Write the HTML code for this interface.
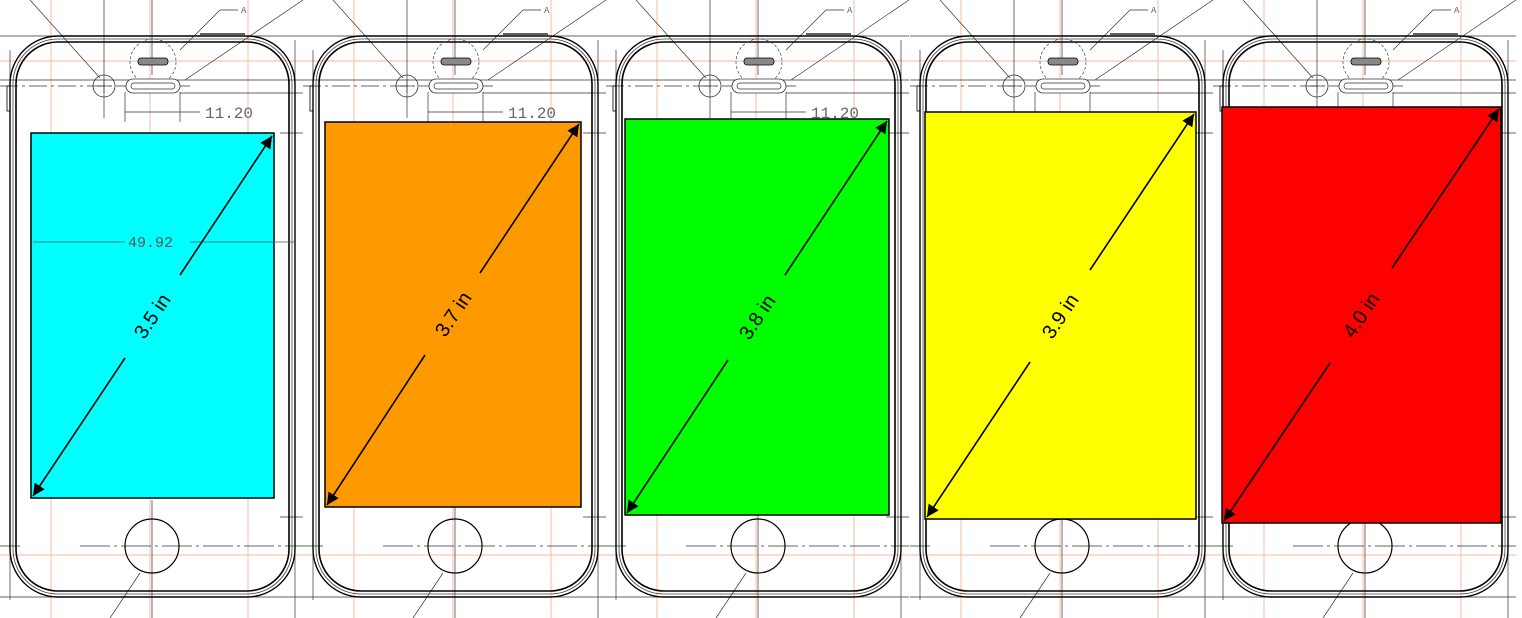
<!DOCTYPE html>
<html><head><style>html,body{margin:0;padding:0;background:#fff}svg{display:block}</style></head>
<body>
<svg width="1522" height="618" viewBox="0 0 1522 618" xmlns="http://www.w3.org/2000/svg" font-family="Liberation Sans, sans-serif">
<defs>
<marker id="ah" viewBox="0 0 10 10" refX="10" refY="5" markerWidth="26" markerHeight="12" markerUnits="userSpaceOnUse" orient="auto-start-reverse"><path d="M0,0 L10,5 L0,10 z" fill="#000"/></marker>
<g id="phone" fill="none">
  <g stroke="#f8c8b0" stroke-width="1.2">
    <line x1="51" y1="0" x2="51" y2="618"/><line x1="150" y1="0" x2="150" y2="618"/><line x1="248" y1="0" x2="248" y2="618"/>
    <line x1="0" y1="61" x2="303" y2="61"/><line x1="0" y1="555" x2="303" y2="555"/>
  </g>
  <g stroke="#333" stroke-width="0.7">
    <line x1="104" y1="0" x2="104" y2="118"/><line x1="152" y1="0" x2="152" y2="75"/>
    <line x1="0" y1="36" x2="303" y2="36"/>
    <line x1="0" y1="80" x2="303" y2="80"/><line x1="180" y1="93" x2="303" y2="93"/>
    <line x1="0" y1="86" x2="190" y2="86" stroke-dasharray="18,4,3,4"/>
    <line x1="80" y1="546" x2="303" y2="546" stroke-dasharray="30,4,3,4"/>
    <line x1="0" y1="546" x2="20" y2="546"/>
    <line x1="152" y1="500" x2="152" y2="618"/>
    <line x1="0" y1="597" x2="303" y2="597"/><line x1="295" y1="40" x2="295" y2="618"/>
    <line x1="10" y1="50" x2="10" y2="600"/>
    <line x1="125" y1="92" x2="125" y2="122"/><line x1="180" y1="92" x2="180" y2="122"/>
    <line x1="125" y1="112" x2="200" y2="112"/>
    <line x1="280" y1="133" x2="303" y2="133"/><line x1="280" y1="517" x2="303" y2="517"/>
    <line x1="30" y1="0" x2="100" y2="78"/><line x1="303" y1="0" x2="185" y2="80"/>
    <line x1="180" y1="50" x2="220" y2="10"/><line x1="220" y1="10" x2="238" y2="10"/>
    <line x1="140" y1="573" x2="110" y2="618"/>
  </g>
  <rect x="10" y="36" width="285" height="561" rx="48" stroke="#000" stroke-width="1.4"/>
  <rect x="13" y="39" width="279" height="555" rx="45" stroke="#444" stroke-width="0.8"/>
  <rect x="16" y="42" width="273" height="549" rx="42" stroke="#000" stroke-width="1.6"/>
  <line x1="200" y1="34" x2="245" y2="34" stroke="#000" stroke-width="1.2"/>
  <rect x="7" y="86" width="3" height="25" stroke="#000" stroke-width="0.8"/>
  <circle cx="104" cy="86" r="11" stroke="#333" stroke-width="0.8"/>
  <line x1="97" y1="86" x2="111" y2="86" stroke="#333" stroke-width="0.7"/><line x1="104" y1="79" x2="104" y2="93" stroke="#333" stroke-width="0.7"/>
  <circle cx="153" cy="62" r="23" stroke="#444" stroke-width="0.7" stroke-dasharray="3,2"/>
  <rect x="138" y="58" width="30" height="7" rx="3" fill="#888" stroke="#000" stroke-width="0.8"/>
  <rect x="126" y="79" width="54" height="14" rx="7" stroke="#333" stroke-width="0.8" fill="#fff"/>
  <rect x="131" y="83" width="44" height="6" rx="3" stroke="#333" stroke-width="0.7"/>
  <circle cx="152" cy="546" r="27" stroke="#000" stroke-width="1.2"/>
</g>
</defs>

<use href="#phone" x="0"/>
<use href="#phone" x="303"/>
<use href="#phone" x="606"/>
<use href="#phone" x="910"/>
<use href="#phone" x="1213"/>

<g font-size="16" fill="#666" font-family="Liberation Mono, monospace">
  <text x="205" y="118">11.20</text><text x="508" y="118">11.20</text><text x="811" y="118">11.20</text>
  <text x="241" y="13" font-size="9">A</text><text x="544" y="13" font-size="9">A</text><text x="847" y="13" font-size="9">A</text><text x="1151" y="13" font-size="9">A</text><text x="1454" y="13" font-size="9">A</text>
</g>

<rect x="31" y="133" width="243" height="365" fill="#00ffff" stroke="#000" stroke-width="1.5"/>
<rect x="325" y="122" width="256" height="385" fill="#ff9900" stroke="#000" stroke-width="1.5"/>
<rect x="625" y="119" width="264" height="396" fill="#00ff00" stroke="#000" stroke-width="1.5"/>
<rect x="925" y="112" width="271" height="407" fill="#ffff00" stroke="#000" stroke-width="1.5"/>
<rect x="1222" y="107" width="279" height="416" fill="#ff0000" stroke="#000" stroke-width="1.5"/>

<g stroke="#555" stroke-width="0.7">
  <line x1="33" y1="242" x2="125" y2="242"/><line x1="190" y1="242" x2="295" y2="242"/>
</g>
<text x="128" y="247" font-size="15" fill="#555" font-family="Liberation Mono, monospace">49.92</text>

<g stroke="#000" stroke-width="1.6">
  <line x1="33" y1="496" x2="125" y2="358" marker-start="url(#ah)"/><line x1="180" y1="275" x2="272" y2="136" marker-end="url(#ah)"/>
  <line x1="327" y1="505" x2="425" y2="355" marker-start="url(#ah)"/><line x1="480" y1="273" x2="579" y2="124" marker-end="url(#ah)"/>
  <line x1="627" y1="513" x2="728" y2="360" marker-start="url(#ah)"/><line x1="785" y1="275" x2="887" y2="121" marker-end="url(#ah)"/>
  <line x1="927" y1="517" x2="1030" y2="362" marker-start="url(#ah)"/><line x1="1090" y1="270" x2="1194" y2="114" marker-end="url(#ah)"/>
  <line x1="1224" y1="521" x2="1330" y2="363" marker-start="url(#ah)"/><line x1="1392" y1="268" x2="1499" y2="109" marker-end="url(#ah)"/>
</g>
<g font-size="20" fill="#000" text-anchor="middle">
  <text transform="translate(152,316) rotate(-56.3)" dy="7">3.5 in</text>
  <text transform="translate(453,314) rotate(-56.4)" dy="7">3.7 in</text>
  <text transform="translate(757,317) rotate(-56.3)" dy="7">3.8 in</text>
  <text transform="translate(1060,316) rotate(-56.3)" dy="7">3.9 in</text>
  <text transform="translate(1361,315) rotate(-56.2)" dy="7">4.0 in</text>
</g>
</svg>
</body></html>
